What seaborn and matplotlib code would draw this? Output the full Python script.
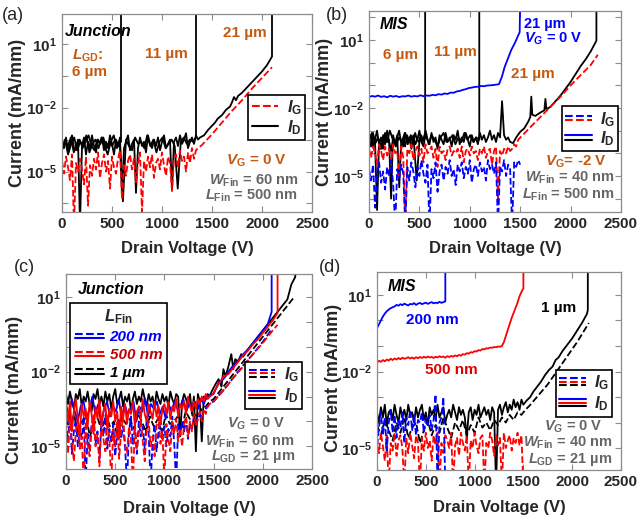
import numpy as np
import matplotlib
matplotlib.use("Agg")
import matplotlib.pyplot as plt
from matplotlib.lines import Line2D
from matplotlib.legend_handler import HandlerBase
from matplotlib.ticker import FixedLocator, NullFormatter
import seaborn as sns

# ------------------------------------------------------------------
# data: drain voltage (V) and log10 of current (mA/mm)
# a floor list is a sweep from 0 V to its end voltage, a "rise" list follows it
# ------------------------------------------------------------------
TOP = 3.0        # off-scale current after breakdown
XTICKS = [0, 500, 1000, 1500, 2000, 2500]

# (a) Junction, LGD = 6 / 11 / 21 um
A_BREAK = [590, 1340]
A_ID6 = [-4.0, -3.6, -3.8, -3.4, -4.1, -3.7, -3.5, -3.9, -3.6, -3.3, -3.8, -4.0, -3.5, -3.7, -3.4, -3.9, -3.6,
         -3.8, -3.5, -3.7, -3.6]
A_ID11 = [-3.9, -3.5, -4.2, -3.7, -3.4, -4.0, -3.6, -3.8, -3.3, -4.1, -3.7, -3.5, -3.9, -3.4, -3.8, -4.2, -3.6,
          -3.3, -3.9, -3.7, -6.4, -3.5, -3.8, -4.0, -3.4, -3.7, -3.6, -3.9, -3.3, -3.8, -3.5, -4.1, -3.6, -3.4,
          -3.9, -3.7, -3.5, -3.8, -5.8, -3.6, -3.4, -3.7, -3.5, -3.6, -3.4]
A_ID21 = [-3.6, -3.9, -3.4, -4.1, -3.7, -3.3, -3.9, -4.0, -3.5, -7.5, -3.8, -3.4, -4.2, -3.6, -3.9, -3.3, -3.8,
          -4.1, -3.5, -3.7, -3.4, -4.0, -3.6, -3.9, -3.3, -3.7, -4.2, -3.5, -3.8, -3.4, -6.1, -3.9, -3.6, -3.3,
          -4.0, -3.7, -3.5, -6.0, -3.9, -3.4, -3.8, -3.6, -4.1, -3.3, -3.7, -3.9, -3.5, -3.8, -3.4, -4.0, -3.6,
          -3.3, -3.9, -3.7, -3.5, -5.9, -3.6, -3.4, -3.8, -3.3, -3.7, -3.5, -3.2, -3.9, -3.6, -3.4, -3.7, -3.3,
          -3.5, -3.4, -3.35]
A_ID21_END = 1400
A_ID21_RISE_V = [1420, 1460, 1500, 1530, 1560, 1600, 1640, 1680, 1700, 1720, 1740, 1760, 1800, 1850, 1900,
                 1950, 2000, 2050, 2100, 2100]
A_ID21_RISE = [-3.3, -3.05, -2.85, -2.7, -2.5, -2.35, -2.1, -1.95, -1.75, -1.5, -1.65, -1.45, -1.3, -1.05, -0.8,
               -0.55, -0.3, 0.0, 0.4, TOP]
A_IG = [-4.5, -5.1, -4.3, -4.8, -5.4, -4.2, -7.5, -4.6, -5.0, -4.4, -4.9, -5.6, -4.3, -6.6, -4.7, -5.2, -4.4,
        -4.9, -4.1, -5.3, -4.6, -4.2, -5.0, -4.5, -5.8, -4.3, -4.8, -5.1, -4.4, -4.0, -6.3, -4.7, -5.2, -4.5,
        -4.2, -4.9, -4.4, -5.5, -4.6, -4.1, -6.9, -4.5, -5.0, -4.3, -4.8, -4.2, -5.3, -4.6, -4.4, -4.9, -4.1,
        -4.7, -5.2, -4.3, -4.6, -5.9, -4.4, -4.2, -4.8, -4.0, -4.5, -4.3, -5.0, -4.1, -4.6, -3.9, -4.4, -4.0, -3.9]
A_IG_END = 1360
A_IG_RISE_V = [1400, 1500, 1600, 1700, 1800, 1900, 2000, 2100]
A_IG_RISE = [-3.75, -3.25, -2.7, -2.15, -1.65, -1.1, -0.6, -0.1]

# (b) MIS, VG = -2 V (black / red) and 21 um at VG = 0 V (blue)
B_BREAK = [557, 1094]
B_ID6 = [-3.5, -3.2, -3.7, -3.4, -3.0, -3.6, -3.3, -3.8, -3.1, -3.5, -3.4, -6.0, -3.2, -3.6, -3.3, -3.0, -3.5,
         -3.4, -3.7, -3.2, -3.5, -3.3, -3.6, -3.1, -3.4, -3.5, -3.2, -3.4, -3.3]
B_ID11 = [-3.4, -3.1, -3.6, -3.3, -3.8, -3.2, -3.5, -3.0, -3.4, -3.7, -3.3, -3.5, -3.1, -3.6, -3.2, -3.4, -5.2,
          -3.3, -3.5, -3.0, -3.6, -3.2, -3.4, -3.7, -3.3, -3.1, -3.5, -3.4, -3.2, -3.6, -3.3, -3.5, -3.1, -3.4,
          -3.2, -3.5, -3.3, -3.4]
B_ID21 = [-3.3, -3.7, -3.1, -3.5, -6.5, -3.4, -3.8, -3.2, -3.6, -3.0, -3.5, -3.9, -3.3, -3.6, -3.2, -5.5, -3.4,
          -3.7, -3.1, -3.5, -3.3, -3.8, -3.2, -3.6, -3.4, -3.0, -3.5, -3.7, -3.2, -3.4, -3.6, -3.1, -3.5, -3.3,
          -3.8, -3.2, -3.4, -3.6, -3.1, -3.5, -3.3, -3.7, -3.2, -3.4, -3.0, -3.6, -3.3, -3.5, -3.1, -3.4, -3.7,
          -3.2, -3.5, -3.3, -3.6, -3.1, -3.4, -3.2, -3.5, -3.3, -3.0, -3.4, -3.2, -3.5, -3.1, -3.3, -1.7, -3.2,
          -3.4, -3.3, -3.5]
B_ID21_END = 1400
B_ID21_RISE_V = [1430, 1460, 1500, 1540, 1580, 1600, 1610, 1620, 1650, 1700, 1740, 1750, 1760, 1800, 1850,
                 1900, 1950, 2000, 2050, 2100, 2150, 2200, 2256, 2256]
B_ID21_RISE = [-3.55, -3.3, -3.05, -2.9, -2.6, -2.4, -1.5, -2.3, -2.35, -2.2, -2.1, -1.6, -2.05, -1.95, -1.7,
               -1.45, -1.15, -0.85, -0.5, -0.15, 0.15, 0.5, 0.97, TOP]
B_IG = [-3.8, -4.2, -3.7, -4.0, -4.5, -3.6, -3.9, -4.3, -3.7, -4.1, -3.8, -4.4, -3.6, -4.0, -3.9, -5.0, -3.7,
        -4.2, -7.2, -3.8, -4.0, -3.6, -4.3, -3.9, -3.7, -4.1, -3.8, -4.4, -3.6, -4.0, -3.9, -3.7, -4.2, -3.8,
        -4.6, -3.7, -4.0, -3.9, -4.3, -3.8, -3.7, -4.1, -3.9, -4.0, -3.8, -4.2, -3.7, -4.4, -3.9, -3.8, -4.1,
        -3.7, -4.0, -3.9, -4.3, -3.8, -4.0, -3.7, -4.2, -3.9, -3.8, -4.5, -3.9, -3.7, -6.0, -3.9, -4.1, -3.8,
        -4.0, -3.7, -3.9, -3.8, -3.6, -3.7]
B_IG_END = 1460
B_IG_RISE_V = [1480, 1600, 1700, 1800, 1900, 2000, 2100, 2200, 2270]
B_IG_RISE = [-3.4, -2.85, -2.4, -1.95, -1.5, -1.0, -0.55, -0.1, 0.35]
B0_ID = [-1.52, -1.47, -1.50, -1.45, -1.51, -1.48, -1.53, -1.46, -1.50, -1.47, -1.52, -1.48, -1.49, -1.45, -1.50,
         -1.47, -1.49, -1.44, -1.48, -1.45, -1.46, -1.42, -1.44, -1.39, -1.41, -1.36, -1.38, -1.32, -1.33, -1.27,
         -1.25, -1.20, -1.17, -1.12, -1.10, -1.07, -1.06, -1.03, -1.04, -1.01, -1.00, -0.99, -0.97]
B0_ID_END = 1260
B0_ID_RISE_V = [1290, 1320, 1345, 1380, 1410, 1445, 1475, 1495, 1500]
B0_ID_RISE = [-0.95, -0.6, -0.2, 0.2, 0.55, 0.85, 1.15, 1.35, TOP]
B0_IG = [-4.7, -5.2, -4.5, -6.4, -4.9, -4.4, -5.3, -4.8, -5.6, -4.6, -5.0, -4.3, -5.4, -7.2, -4.7, -5.1, -4.5,
         -4.9, -7.2, -4.6, -5.2, -4.4, -4.8, -5.5, -4.6, -5.0, -4.3, -4.9, -5.3, -4.5, -7.2, -4.7, -5.1, -4.4,
         -5.7, -4.8, -4.5, -5.2, -4.6, -4.9, -4.3, -5.0, -4.7, -5.4, -4.5, -4.8, -4.4, -5.1, -4.6, -4.9, -4.3,
         -5.3, -4.7, -4.5, -5.0, -4.4, -4.8, -4.6, -5.2, -4.3, -4.7, -4.5, -4.9, -4.4, -7.2, -4.6, -4.8, -4.3,
         -5.0, -4.5, -4.7, -7.2, -4.4, -4.6, -4.3, -4.5]
B0_IG_END = 1500

# (c) Junction, LFin = 200 nm (blue), 500 nm (red), 1 um (black)
C1_ID = [-2.9, -3.3, -2.8, -3.2, -3.5, -2.9, -3.1, -2.7, -3.4, -3.0, -3.2, -2.8, -3.3, -3.6, -2.9, -3.1, -2.7,
         -3.3, -3.0, -3.4, -2.8, -3.2, -2.9, -3.5, -3.0, -2.7, -3.3, -3.1, -2.8, -3.4, -3.0, -3.2, -2.9, -3.6,
         -3.1, -2.8, -3.3, -3.0, -3.2, -2.7, -3.1, -3.4, -2.9, -3.2, -3.0, -3.5, -2.8, -3.1, -3.3, -2.9, -3.2,
         -3.0, -3.4, -2.8, -3.1, -3.3, -2.9, -3.0, -4.6, -3.2, -2.9, -3.1, -3.4, -2.9, -3.7, -3.0, -5.2, -2.9,
         -3.2, -4.8, -3.0, -3.1, -2.9, -3.0]
C1_ID_END = 1460
C1_ID_RISE_V = [1480, 1520, 1550, 1580, 1600, 1620, 1650, 1680, 1700, 1720, 1750, 1780, 1800, 1850, 1900, 1950,
                2000, 2050, 2100, 2150, 2200, 2250, 2290, 2330, 2330]
C1_ID_RISE = [-2.8, -2.5, -2.3, -2.6, -1.9, -2.2, -1.8, -1.3, -1.9, -1.5, -1.6, -1.3, -1.4, -1.1, -0.85, -0.6,
              -0.35, -0.1, 0.15, 0.4, 0.65, 0.9, 1.5, 1.8, TOP]
C1_IG = [-3.9, -4.3, -3.7, -4.5, -4.0, -3.8, -4.6, -4.1, -3.9, -4.4, -3.7, -4.2, -4.0, -4.7, -3.8, -4.1, -3.9,
         -4.3, -3.7, -4.0, -4.4, -3.8, -4.2, -3.9, -4.5, -3.7, -4.1, -4.0, -3.8, -4.3, -3.6, -3.9, -3.7, -3.8,
         -3.5, -3.4, -3.2]
C1_IG_END = 1460
C1_IG_RISE_V = [1500, 1600, 1700, 1800, 1900, 2000, 2100, 2200, 2310]
C1_IG_RISE = [-3.1, -2.6, -2.1, -1.6, -1.1, -0.6, -0.1, 0.4, 0.95]
C5_ID = [-3.4, -4.0, -3.2, -4.4, -3.6, -3.1, -3.9, -4.6, -3.3, -3.8, -3.5, -4.2, -3.2, -3.7, -4.5, -3.4, -3.9,
         -3.1, -4.1, -3.6, -3.3, -4.3, -3.5, -3.8, -3.2, -4.0, -3.6, -4.7, -3.4, -3.9, -3.3, -4.1, -3.5, -3.7,
         -3.2, -4.2, -3.6, -3.4, -3.9, -3.1, -3.7, -4.0, -3.3, -3.6, -3.9, -3.2, -3.8, -3.4, -4.1, -3.5, -3.3,
         -3.7, -3.2, -3.9, -3.4, -3.6, -3.1, -3.8, -3.3, -3.5, -3.2, -3.7, -3.0, -3.4, -3.6, -3.2, -3.5, -3.1,
         -3.3, -3.0, -3.2, -2.9, -3.1, -3.0, -2.95]
C5_ID_END = 1480
C5_ID_RISE_V = [1500, 1550, 1600, 1650, 1700, 1750, 1800, 1850, 1900, 1950, 2000, 2050, 2100, 2150, 2150]
C5_ID_RISE = [-2.85, -2.5, -2.2, -2.1, -1.85, -1.6, -1.35, -1.15, -0.9, -0.7, -0.45, -0.2, 0.05, 0.35, TOP]
C5_IG = [-4.2, -5.3, -3.9, -4.8, -5.6, -4.4, -3.8, -5.1, -4.6, -6.5, -4.0, -4.9, -5.4, -4.3, -3.7, -5.0, -4.5,
         -5.8, -4.1, -4.7, -5.2, -3.9, -4.6, -6.5, -4.3, -5.0, -4.0, -5.5, -4.4, -3.8, -4.9, -5.3, -4.2, -4.7,
         -6.5, -4.1, -5.1, -4.5, -3.9, -4.8, -5.6, -4.3, -4.0, -5.0, -4.6, -5.4, -4.2, -3.8, -4.9, -4.4, -6.5,
         -4.1, -4.7, -5.2, -4.0, -4.5, -3.9, -4.8, -4.3, -5.0, -4.1, -3.8, -4.6, -4.0, -4.4, -3.7, -4.2, -3.9,
         -3.6, -4.0, -3.5, -3.7, -3.4, -3.3]
C5_IG_END = 1460
C5_IG_RISE_V = [1500, 1600, 1700, 1800, 1900, 2000, 2100, 2150]
C5_IG_RISE = [-3.2, -2.75, -2.25, -1.8, -1.3, -0.85, -0.35, -0.12]
C2_ID = [-3.3, -3.8, -3.1, -3.6, -4.0, -3.4, -3.2, -3.9, -3.5, -3.0, -3.7, -3.3, -4.1, -3.5, -3.2, -3.8, -3.4,
         -3.6, -3.1, -3.9, -3.3, -3.7, -3.5, -3.2, -4.0, -3.4, -3.6, -3.1, -3.8, -3.3, -3.5, -3.2, -3.7, -3.4,
         -3.9, -3.3, -3.6, -3.2, -3.5, -3.4, -3.1, -3.6, -3.3, -3.4, -3.2, -3.5, -3.1, -3.3, -3.0, -2.95]
C2_ID_END = 1460
C2_ID_RISE_V = [1500, 1550, 1600, 1650, 1700, 1750, 1800, 1850, 1900, 1950, 2000, 2050, 2090, 2090]
C2_ID_RISE = [-2.9, -2.45, -2.3, -2.0, -1.75, -1.55, -1.3, -1.1, -0.85, -0.6, -0.35, -0.1, 0.4, TOP]
C2_IG = [-4.0, -4.8, -3.7, -5.3, -4.4, -3.9, -5.0, -4.3, -4.7, -3.8, -6.5, -4.5, -5.2, -4.1, -3.9, -4.9, -4.4,
         -5.5, -4.0, -4.6, -3.8, -5.1, -4.3, -4.8, -4.1, -5.4, -4.5, -3.9, -4.7, -4.2, -5.0, -6.5, -4.4, -3.8,
         -4.9, -4.3, -5.3, -4.0, -4.6, -4.2, -5.1, -3.9, -4.5, -6.5, -4.8, -4.1, -5.2, -4.4, -3.9, -4.7, -4.2,
         -5.0, -4.3, -4.6, -3.8, -4.9, -6.5, -4.1, -4.5, -4.0, -4.4, -3.9, -4.7, -4.1, -4.3, -3.8, -4.2, -3.9,
         -3.7, -3.9, -3.6, -3.5, -3.4, -3.3]
C2_IG_END = 1460
C2_IG_RISE_V = [1500, 1600, 1700, 1800, 1900, 2000, 2090]
C2_IG_RISE = [-3.2, -2.75, -2.25, -1.75, -1.3, -0.8, -0.3]

# (d) MIS, LFin = 200 nm (blue), 500 nm (red), 1 um (black)
D2_ID = [-0.3, -0.15, 0.0, 0.15, 0.27, 0.36, 0.43, 0.48, 0.52, 0.55, 0.61, 0.58, 0.64, 0.6, 0.66, 0.62, 0.59,
         0.65, 0.63, 0.68, 0.61, 0.66, 0.69, 0.64, 0.67, 0.7, 0.65, 0.69, 0.72, 0.67, 0.7, 0.68, 0.73, 0.69,
         0.72, 0.75]
D2_ID_END = 700
D2_IG = [-4.9, -4.2, -3.6, -4.5, -3.8, -5.1, -4.0, -3.5, -4.4, -3.7, -4.6, -3.9, -4.2, -3.6, -4.8, -3.8, -4.1,
         -3.5, -4.3, -3.7, -4.5, -3.9, -4.0, -3.6, -4.4, -3.8, -4.1, -3.7, -4.3, -3.9, -2.9, -6.5, -4.0, -3.8,
         -3.0, -6.5]
D2_IG_END = 700
D5_ID = [-1.65, -1.58, -1.62, -1.55, -1.60, -1.53, -1.57, -1.50, -1.55, -1.49, -1.53, -1.47, -1.52, -1.46, -1.50,
         -1.48, -1.44, -1.49, -1.45, -1.50, -1.44, -1.48, -1.43, -1.47, -1.42, -1.46, -1.41, -1.45, -1.43, -1.47,
         -1.42, -1.45, -1.40, -1.44, -1.41, -1.46, -1.40, -1.43, -1.39, -1.42, -1.37, -1.40, -1.35, -1.38, -1.32,
         -1.34, -1.28, -1.30, -1.24, -1.26, -1.20, -1.22, -1.16, -1.18, -1.12, -1.13, -1.09, -1.10, -1.06, -1.07,
         -1.04, -1.05, -1.02, -1.03, -1.0]
D5_ID_END = 1280
D5_ID_RISE_V = [1300, 1325, 1350, 1380, 1410, 1440, 1460, 1490, 1500, 1500]
D5_ID_RISE = [-0.85, -0.55, -0.25, 0.1, 0.4, 0.7, 0.95, 1.2, 1.25, TOP]
D5_IG = [-4.6, -5.2, -4.4, -4.9, -5.5, -4.5, -6.5, -4.8, -5.1, -4.4, -5.3, -4.7, -4.5, -5.0, -6.5, -4.6, -5.2,
         -4.4, -4.9, -5.4, -4.5, -4.8, -6.5, -4.6, -5.1, -4.4, -5.0, -4.7, -5.5, -4.5, -4.9, -4.4, -6.5, -4.8,
         -5.2, -4.5, -4.7, -5.0, -4.4, -6.5, -4.9, -4.6, -5.3, -4.4, -4.8, -5.1, -4.5, -6.5, -4.7, -5.0, -4.4,
         -4.9, -5.2, -4.6, -4.5, -6.5, -4.8, -5.0, -4.4, -4.7, -5.3, -4.5, -4.9, -4.6, -6.5, -4.4, -5.0, -4.7,
         -4.5, -5.1, -4.6, -4.8, -4.4, -4.9, -4.5, -6.5]
D5_IG_END = 1500
D1_ID = [-3.6, -4.0, -3.4, -3.8, -3.3, -4.1, -3.6, -3.5, -3.9, -3.3, -3.7, -4.0, -3.4, -3.8, -3.5, -3.9, -3.3,
         -3.7, -3.6, -4.0, -3.4, -3.8, -3.5, -3.3, -3.9, -3.6, -4.1, -3.4, -3.7, -3.5, -3.9, -3.3, -3.8, -3.6,
         -3.4, -4.0, -3.7, -3.5, -3.8, -3.3, -3.6, -3.9, -3.4, -3.7, -3.5, -3.8, -4.6, -3.6, -3.4, -3.9, -3.5,
         -3.7, -3.3, -3.8, -3.6, -3.4, -3.7, -3.5, -3.9, -3.4, -3.6, -6.5, -3.5, -3.3, -3.7, -3.4, -3.2, -3.6,
         -3.3, -3.5, -3.1, -3.4, -3.2, -3.5, -3.1, -3.3]
D1_ID_END = 1500
D1_ID_RISE_V = [1530, 1570, 1600, 1640, 1680, 1720, 1760, 1800, 1830, 1860, 1900, 1950, 2000, 2050, 2100, 2150,
                2160, 2160]
D1_ID_RISE = [-3.15, -3.0, -2.8, -2.6, -2.4, -2.15, -1.95, -1.8, -1.55, -1.45, -1.2, -0.95, -0.7, -0.4, -0.1,
              0.25, 0.4, TOP]
D1_IG = [-4.1, -4.5, -3.9, -4.3, -4.7, -4.0, -4.4, -3.8, -4.6, -4.2, -4.0, -4.8, -4.3, -3.9, -4.5, -4.1, -4.4,
         -3.8, -4.2, -4.6, -4.0, -4.3, -3.9, -4.5, -4.1, -4.4, -3.8, -4.2, -4.0, -4.3, -3.9, -4.1, -3.8, -4.0,
         -3.7, -3.9, -3.6, -3.7, -3.5]
D1_IG_END = 1520
D1_IG_RISE_V = [1560, 1650, 1750, 1850, 1950, 2050, 2170]
D1_IG_RISE = [-3.35, -2.95, -2.5, -1.95, -1.4, -0.85, -0.1]

# ------------------------------------------------------------------
BLUE, RED, BLACK = "#0000FF", "#FF0000", "#000000"
ORANGE, GRAY = "#C55A11", "#666666"

sns.set_style("ticks")
plt.rcParams["font.family"] = ["Liberation Sans", "DejaVu Sans"]
plt.rcParams["font.weight"] = "bold"
plt.rcParams["mathtext.fontset"] = "custom"
plt.rcParams["mathtext.rm"] = "Liberation Sans:bold"
plt.rcParams["mathtext.bf"] = "Liberation Sans:bold"
plt.rcParams["mathtext.it"] = "Liberation Sans:italic:bold"
plt.rcParams["mathtext.sf"] = "Liberation Sans:bold"


def sweep(floor, v_end, rise_v=(), rise_i=()):
    v = np.concatenate([np.linspace(0, v_end, len(floor)), np.asarray(rise_v, float)])
    i = np.concatenate([np.asarray(floor, float), np.asarray(rise_i, float)])
    return v, 10.0 ** i


def trace(ax, data, color, ls="-", lw=1.3):
    v, cur = data
    sns.lineplot(x=v, y=cur, ax=ax, color=color, linestyle=ls, linewidth=lw,
                 sort=False, estimator=None)


class Stack(tuple):
    pass


class StackHandler(HandlerBase):
    def __init__(self, gap=3.0):
        super().__init__()
        self.gap = gap

    def create_artists(self, legend, orig_handle, xdescent, ydescent, width, height, fontsize, trans):
        n = len(orig_handle)
        mid = (height - ydescent) / 2.0
        arts = []
        for k, h in enumerate(orig_handle):
            y = mid + (n - 1) / 2.0 * self.gap - k * self.gap
            ln = Line2D([-xdescent, width - xdescent], [y, y], color=h.get_color(),
                        linestyle=h.get_linestyle(), linewidth=h.get_linewidth())
            ln.set_transform(trans)
            arts.append(ln)
        return arts


def handle(color, ls):
    return Line2D([], [], color=color, linestyle=ls, linewidth=1.5)


def box_legend(ax, handles, labels, anchor, loc="upper right", gap=3.0, fs=12, **kw):
    leg = ax.legend([Stack(h) for h in handles], labels, loc=loc, bbox_to_anchor=anchor,
                    bbox_transform=ax.transAxes, borderaxespad=0, fancybox=False,
                    edgecolor="black", framealpha=1, fontsize=fs,
                    handler_map={Stack: StackHandler(gap)}, **kw)
    leg.get_frame().set_linewidth(1.2)
    return leg


def setup(ax, ylo, yhi, major, minor, ylab_xy, xlab_y):
    ax.set_yscale("log")
    ax.set_xlim(0, 2500)
    ax.set_ylim(10.0 ** ylo, 10.0 ** yhi)
    ax.set_xticks(XTICKS)
    ax.set_yticks([10.0 ** e for e in major])
    ax.set_yticklabels([f"10$^{{{e}}}$" if e in (1, -2, -5) else "" for e in major])
    ax.yaxis.set_minor_locator(FixedLocator([10.0 ** e for e in minor]))
    ax.yaxis.set_minor_formatter(NullFormatter())
    ax.tick_params(which="both", direction="in", top=True, right=True, length=4, width=0.8,
                   color="#8c8c8c", labelsize=11, pad=3.5)
    for s in ax.spines.values():
        s.set_color("#8c8c8c")
        s.set_linewidth(0.9)
    ax.set_xlabel("Drain Voltage (V)", fontsize=12, fontweight="bold")
    ax.set_ylabel("Current (mA/mm)", fontsize=13, fontweight="bold")
    ax.xaxis.set_label_coords(0.5, xlab_y)
    ax.yaxis.set_label_coords(*ylab_xy)


def note(ax, x, y, s, color=BLACK, fs=10.5, ha="left", style="normal"):
    ax.text(x, y, s, transform=ax.transAxes, color=color, fontsize=fs, ha=ha, va="center",
            fontweight="bold", fontstyle=style, zorder=6)


fig = plt.figure(figsize=(6.39, 5.19), dpi=100)
W, H = 639.0, 519.0
ax_a = fig.add_axes([62 / W, 1 - 212 / H, 250 / W, 198 / H])
ax_b = fig.add_axes([369 / W, 1 - 212 / H, 252 / W, 201 / H])
ax_c = fig.add_axes([66 / W, 1 - 469 / H, 246 / W, 195 / H])
ax_d = fig.add_axes([377 / W, 1 - 470 / H, 244 / W, 198 / H])

# ---------------- (a) ----------------
ax = ax_a
setup(ax, -6.9, 2.4, [-5, -2, 1], [-6.5, -3.5, -0.5], (-0.145, 0.5), -0.146)
trace(ax, sweep(A_ID6, A_BREAK[0], [A_BREAK[0]], [TOP]), BLACK)
trace(ax, sweep(A_ID11, A_BREAK[1], [A_BREAK[1]], [TOP]), BLACK)
trace(ax, sweep(A_ID21, A_ID21_END, A_ID21_RISE_V, A_ID21_RISE), BLACK)
trace(ax, sweep(A_IG, A_IG_END, A_IG_RISE_V, A_IG_RISE), RED, "--")
note(ax, 0.012, 0.91, "Junction", fs=11.5, style="italic")
note(ax, 0.04, 0.79, r"$L_{\mathrm{GD}}$:", ORANGE, fs=11)
note(ax, 0.04, 0.707, "6 µm", ORANGE, fs=11)
note(ax, 0.332, 0.798, "11 µm", ORANGE, fs=11)
note(ax, 0.644, 0.902, "21 µm", ORANGE, fs=11)
box_legend(ax, [(handle(RED, "--"),), (handle(BLACK, "-"),)],
           [r"$I_{\mathrm{G}}$", r"$I_{\mathrm{D}}$"], (0.972, 0.591),
           handlelength=1.6, labelspacing=0.05, borderpad=0.2, handletextpad=0.5)
note(ax, 0.779, 0.258, r"$V_{\mathrm{G}}$ = 0 V", ORANGE, fs=11, ha="center")
note(ax, 0.945, 0.158, r"$W_{\mathrm{Fin}}$ = 60 nm", GRAY, ha="right")
note(ax, 0.945, 0.084, r"$L_{\mathrm{Fin}}$ = 500 nm", GRAY, ha="right")

# ---------------- (b) ----------------
ax = ax_b
setup(ax, -6.59, 2.28, [-6, -5, -4, -3, -2, -1, 0, 1, 2], [], (-0.142, 0.5), -0.144)
trace(ax, sweep(B_ID6, B_BREAK[0], [B_BREAK[0]], [TOP]), BLACK)
trace(ax, sweep(B_ID11, B_BREAK[1], [B_BREAK[1]], [TOP]), BLACK)
trace(ax, sweep(B_ID21, B_ID21_END, B_ID21_RISE_V, B_ID21_RISE), BLACK)
trace(ax, sweep(B_IG, B_IG_END, B_IG_RISE_V, B_IG_RISE), RED, "--")
trace(ax, sweep(B0_IG, B0_IG_END), BLUE, "--")
trace(ax, sweep(B0_ID, B0_ID_END, B0_ID_RISE_V, B0_ID_RISE), BLUE)
note(ax, 0.043, 0.935, "MIS", fs=11.5, style="italic")
note(ax, 0.055, 0.781, "6 µm", ORANGE, fs=11)
note(ax, 0.258, 0.797, "11 µm", ORANGE, fs=11)
note(ax, 0.617, 0.935, "21 µm", BLUE)
note(ax, 0.617, 0.862, r"$V_G$ = 0 V", BLUE)
note(ax, 0.563, 0.687, "21 µm", ORANGE, fs=11)
box_legend(ax, [(handle(BLUE, "--"), handle(RED, "--")), (handle(BLUE, "-"), handle(BLACK, "-"))],
           [r"$I_{\mathrm{G}}$", r"$I_{\mathrm{D}}$"], (0.99, 0.525),
           handlelength=1.6, labelspacing=0.05, borderpad=0.2, handletextpad=0.5)
note(ax, 0.82, 0.25, r"$V_{\mathrm{G}}$= -2 V", ORANGE, fs=11, ha="center")
note(ax, 0.975, 0.168, r"$W_{\mathrm{Fin}}$ = 40 nm", GRAY, ha="right")
note(ax, 0.975, 0.085, r"$L_{\mathrm{Fin}}$ = 500 nm", GRAY, ha="right")

# ---------------- (c) ----------------
ax = ax_c
setup(ax, -5.91, 1.92, [-5, -4, -3, -2, -1, 0, 1], [], (-0.175, 0.405), -0.164)
trace(ax, sweep(C1_ID, C1_ID_END, C1_ID_RISE_V, C1_ID_RISE), BLACK)
trace(ax, sweep(C1_IG, C1_IG_END, C1_IG_RISE_V, C1_IG_RISE), BLACK, "--")
trace(ax, sweep(C2_ID, C2_ID_END, C2_ID_RISE_V, C2_ID_RISE), BLUE)
trace(ax, sweep(C2_IG, C2_IG_END, C2_IG_RISE_V, C2_IG_RISE), BLUE, "--")
trace(ax, sweep(C5_IG, C5_IG_END, C5_IG_RISE_V, C5_IG_RISE), RED, "--")
trace(ax, sweep(C5_ID, C5_ID_END, C5_ID_RISE_V, C5_ID_RISE), RED)
note(ax, 0.049, 0.922, "Junction", fs=11.5, style="italic")
leg = box_legend(ax, [(handle(c, "--"), handle(c, "-")) for c in (BLUE, RED, BLACK)],
                 ["200 nm", "500 nm", "1 µm"], (0.016, 0.851), loc="upper left", fs=11,
                 title=r"$L_{\mathrm{Fin}}$", title_fontsize=12,
                 handlelength=1.9, labelspacing=0.25, borderpad=0.3, handletextpad=0.4)
for t, c in zip(leg.get_texts(), (BLUE, "#C00000", BLACK)):
    t.set_color(c)
    t.set_fontstyle("italic")
ax.add_artist(leg)
box_legend(ax, [tuple(handle(c, "--") for c in (BLUE, RED, BLACK)),
                tuple(handle(c, "-") for c in (BLUE, RED, BLACK))],
           [r"$I_{\mathrm{G}}$", r"$I_{\mathrm{D}}$"], (0.959, 0.549), gap=2.4,
           handlelength=1.6, labelspacing=0.15, borderpad=0.2, handletextpad=0.5)
note(ax, 0.775, 0.234, r"$V_G$ = 0 V", GRAY, ha="center")
note(ax, 0.931, 0.14, r"$W_{\mathrm{Fin}}$ = 60 nm", GRAY, ha="right")
note(ax, 0.931, 0.063, r"$L_{\mathrm{GD}}$ = 21 µm", GRAY, ha="right")

# ---------------- (d) ----------------
ax = ax_d
setup(ax, -5.86, 1.90, [-5, -4, -3, -2, -1, 0, 1], [], (-0.145, 0.465), -0.15)
trace(ax, sweep(D1_ID, D1_ID_END, D1_ID_RISE_V, D1_ID_RISE), BLACK)
trace(ax, sweep(D1_IG, D1_IG_END, D1_IG_RISE_V, D1_IG_RISE), BLACK, "--")
trace(ax, sweep(D5_IG, D5_IG_END), RED, "--")
trace(ax, sweep(D2_IG, D2_IG_END), BLUE, "--")
trace(ax, sweep(D5_ID, D5_ID_END, D5_ID_RISE_V, D5_ID_RISE), RED)
trace(ax, sweep(D2_ID, D2_ID_END, [D2_ID_END], [TOP]), BLUE)
note(ax, 0.045, 0.929, "MIS", fs=11.5, style="italic")
note(ax, 0.227, 0.758, "200 nm", BLUE, fs=11, ha="center")
note(ax, 0.304, 0.505, "500 nm", "#E00000", fs=11, ha="center")
note(ax, 0.745, 0.817, "1 µm", BLACK, fs=11, ha="center")
box_legend(ax, [tuple(handle(c, "--") for c in (BLUE, RED, BLACK)),
                tuple(handle(c, "-") for c in (BLUE, RED, BLACK))],
           [r"$I_{\mathrm{G}}$", r"$I_{\mathrm{D}}$"], (0.965, 0.505), gap=2.4,
           handlelength=1.6, labelspacing=0.15, borderpad=0.2, handletextpad=0.5)
note(ax, 0.806, 0.22, r"$V_G$ = 0 V", GRAY, ha="center")
note(ax, 0.965, 0.138, r"$W_{\mathrm{Fin}}$ = 40 nm", GRAY, ha="right")
note(ax, 0.965, 0.054, r"$L_{\mathrm{GD}}$ = 21 µm", GRAY, ha="right")

# panel letters
for x, y, s in [(2, 15, "(a)"), (326, 15, "(b)"), (14, 267, "(c)"), (319, 268, "(d)")]:
    fig.text(x / W, 1 - y / H, s, fontsize=13, fontweight="normal", va="center", ha="left")

fig.savefig("out.png", dpi=100)
